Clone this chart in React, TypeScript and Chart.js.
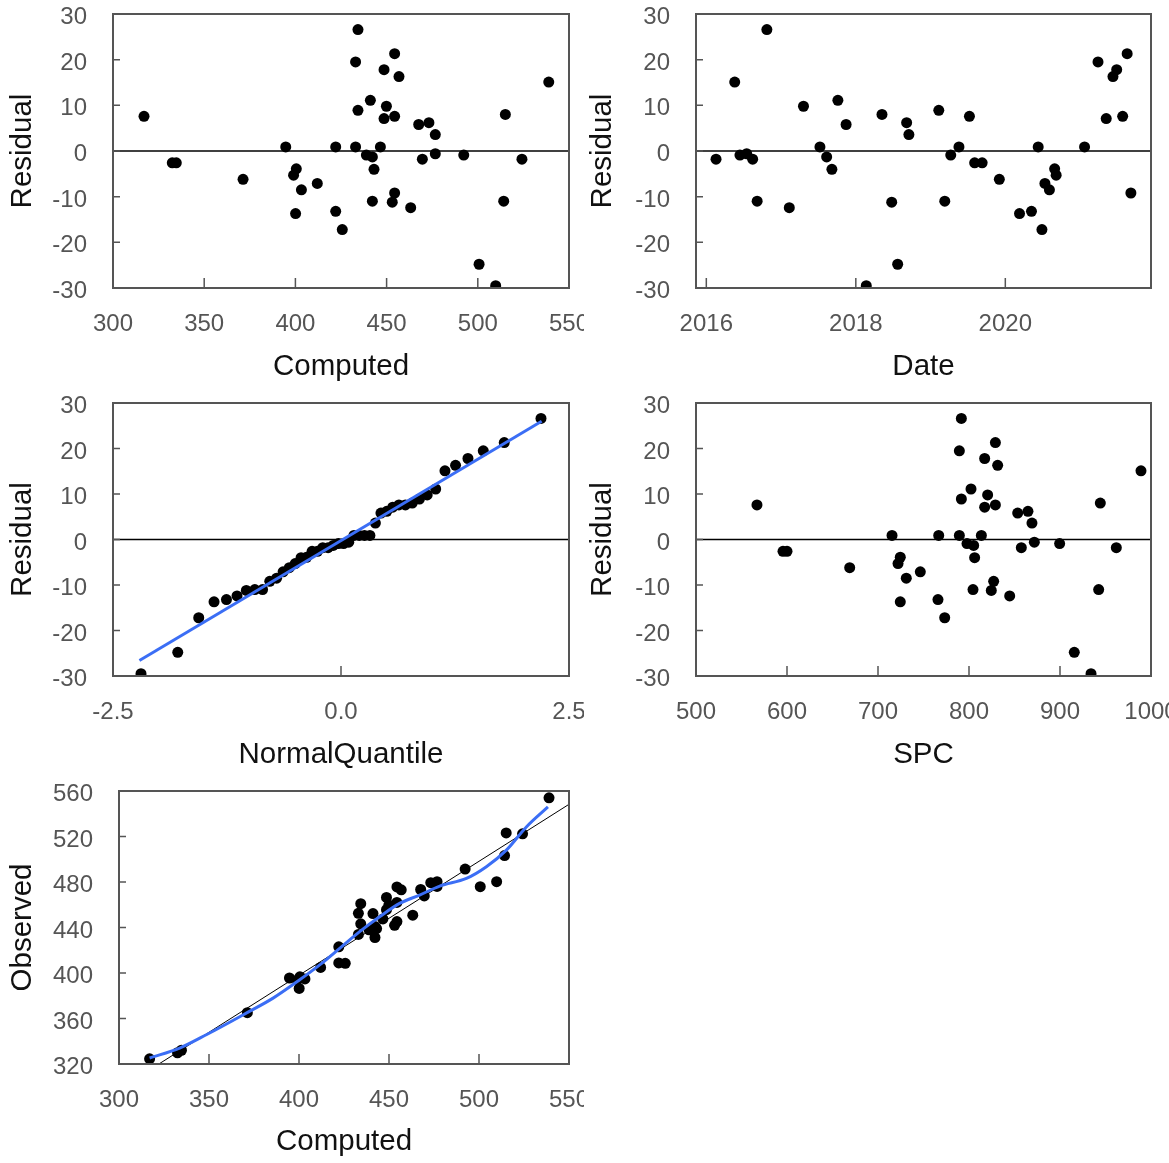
import React, { useEffect, useRef } from "react";
import { Chart, registerables } from "chart.js";
Chart.register(...registerables);

// ---- observation-level data (same order in every array) ----
const computed = [317.0, 332.5, 334.7, 371.3, 394.7, 400.5, 399.0, 403.3, 400.1, 412.0, 422.1, 422.1, 425.7, 434.3, 433.0, 434.3, 433.0, 441.1, 438.9, 442.2, 443.1, 442.2, 448.6, 449.9, 448.6, 446.6, 454.4, 456.8, 454.4, 454.4, 453.1, 463.2, 467.6, 473.2, 476.7, 476.7, 469.6, 492.3, 500.7, 509.8, 515.1, 514.2, 524.2, 538.9];
const residual = [7.6, -2.6, -2.6, -6.2, 0.9, -3.9, -5.3, -8.5, -13.7, -7.1, 0.9, -13.2, -17.2, 26.6, 19.5, 8.9, 0.9, 11.1, -0.9, -1.3, -4.0, -11.0, 17.8, 9.8, 7.1, 0.9, 21.3, 16.3, 7.6, -9.2, -11.2, -12.4, 5.8, 6.2, 3.6, -0.6, -1.8, -0.9, -24.8, -29.5, 8.0, -11.0, -1.8, 15.1];
const observed = [324.6, 329.9, 332.1, 365.1, 395.6, 396.6, 393.7, 394.8, 386.4, 404.9, 423.0, 408.9, 408.5, 460.9, 452.5, 443.2, 433.9, 452.2, 438.0, 440.9, 439.1, 431.2, 466.4, 459.7, 455.7, 447.5, 475.7, 473.1, 462.0, 445.2, 441.9, 450.8, 473.4, 479.4, 480.3, 476.1, 467.8, 491.4, 475.9, 480.3, 523.1, 503.2, 522.4, 554.0];
const dateYear = [2019.52, 2019.59, 2019.69, 2019.92, 2017.52, 2020.66, 2020.68, 2020.59, 2020.19, 2020.53, 2019.38, 2020.35, 2020.49, 2016.81, 2021.24, 2019.11, 2020.44, 2017.76, 2016.45, 2017.61, 2017.68, 2016.68, 2021.49, 2017.30, 2021.35, 2021.06, 2021.63, 2021.44, 2021.57, 2021.68, 2018.48, 2017.11, 2017.87, 2018.68, 2018.71, 2016.54, 2016.13, 2019.27, 2018.56, 2018.14, 2018.35, 2019.19, 2016.62, 2016.38];
const spc = [567.0, 595.6, 600.0, 668.9, 715.4, 724.5, 722.0, 731.1, 724.5, 746.5, 766.7, 765.9, 773.3, 791.6, 789.4, 791.6, 789.4, 802.2, 797.8, 805.1, 806.2, 804.4, 817.2, 820.5, 817.2, 813.6, 829.0, 831.5, 829.0, 827.1, 824.5, 844.7, 853.5, 864.8, 869.2, 871.8, 857.5, 899.6, 915.7, 934.1, 944.3, 942.5, 961.9, 989.0];

// ---- normal quantile plot ----
const normalQuantile = [-2.193, -1.790, -1.560, -1.392, -1.256, -1.140, -1.038, -0.945, -0.860, -0.781, -0.706, -0.635, -0.567, -0.502, -0.438, -0.377, -0.317, -0.258, -0.200, -0.142, -0.085, -0.028, 0.028, 0.085, 0.142, 0.200, 0.258, 0.317, 0.377, 0.438, 0.502, 0.567, 0.635, 0.706, 0.781, 0.860, 0.945, 1.038, 1.140, 1.256, 1.392, 1.560, 1.790, 2.193];
const sortedResidual = [-29.5, -24.8, -17.2, -13.7, -13.2, -12.4, -11.2, -11.0, -11.0, -9.2, -8.5, -7.1, -6.2, -5.3, -4.0, -3.9, -2.6, -2.6, -1.8, -1.8, -1.3, -0.9, -0.9, -0.6, 0.9, 0.9, 0.9, 0.9, 3.6, 5.8, 6.2, 7.1, 7.6, 7.6, 8.0, 8.9, 9.8, 11.1, 15.1, 16.3, 17.8, 19.5, 21.3, 26.6];
const qqLineX = [-2.21, 2.20];
const qqLineY = [-26.6, 26.0];

// ---- observed vs computed lines ----
const fitLineX = [300, 550];
const fitLineY = [297.8, 548.3];
const smoothX = [317.0, 333.7, 348.5, 370.7, 385.6, 400.4, 411.5, 422.6, 433.7, 444.8, 455.9, 467.0, 478.2, 493.0, 504.1, 515.2, 526.3, 538.3];
const smoothY = [325.3, 334.0, 345.7, 364.7, 377.9, 394.0, 407.1, 421.7, 436.4, 449.5, 461.2, 468.5, 476.4, 483.1, 493.4, 508.0, 528.4, 546.0];

// ---- axis ticks ----
const residualTicks = [-30, -20, -10, 0, 10, 20, 30];
const computedTicks = [300, 350, 400, 450, 500, 550];
const dateTicks = [2016, 2018, 2020];
const quantileTicks = [-2.5, 0, 2.5];
const spcTicks = [500, 600, 700, 800, 900, 1000];
const observedTicks = [320, 360, 400, 440, 480, 520, 560];

const FAMILY = "'Liberation Sans', Arial, sans-serif";
const BLUE = "#3b6ef5";

const framePlugin = {
  id: "frame",
  afterDatasetsDraw(chart: any) {
    const { ctx, chartArea: a, scales } = chart;
    const xs = scales.x, ys = scales.y;
    ctx.save();
    ctx.strokeStyle = "#555";
    ctx.lineWidth = 1.5;
    ctx.beginPath();
    xs.ticks.forEach((t: any) => {
      const p = xs.getPixelForValue(t.value);
      ctx.moveTo(p, a.bottom);
      ctx.lineTo(p, a.bottom - 10);
    });
    ys.ticks.forEach((t: any) => {
      const p = ys.getPixelForValue(t.value);
      ctx.moveTo(a.left, p);
      ctx.lineTo(a.left + 7, p);
    });
    ctx.stroke();
    ctx.lineWidth = 2;
    ctx.strokeRect(a.left, a.top, a.right - a.left, a.bottom - a.top);
    ctx.restore();
  },
};

type PanelProps = {
  left: number; top: number; width: number; height: number;
  areaLeft: number; areaTop: number; areaRight: number;
  yTitleOffset: number;
  xTitle: string; yTitle: string;
  xMin: number; xMax: number; xTicks: number[]; xFmt: (v: number) => string;
  yMin: number; yMax: number; yTicks: number[];
  pointsX: number[]; pointsY: number[];
  zeroLine?: boolean;
  lines?: { x: number[]; y: number[]; color: string; width: number; smooth?: boolean }[];
};

function Panel(p: PanelProps) {
  const ref = useRef<HTMLCanvasElement | null>(null);
  useEffect(() => {
    if (!ref.current) return;
    const datasets: any[] = [];
    if (p.zeroLine) {
      datasets.push({
        data: [{ x: p.xMin, y: 0 }, { x: p.xMax, y: 0 }],
        showLine: true, pointRadius: 0, borderColor: "#000", borderWidth: 1.5, order: 5,
      });
    }
    datasets.push({
      data: p.pointsX.map((x, i) => ({ x, y: p.pointsY[i] })),
      pointRadius: 5.5, pointBackgroundColor: "#000", pointBorderWidth: 0, borderWidth: 0, order: 4,
    });
    (p.lines || []).forEach((l, k) => {
      datasets.push({
        data: l.x.map((x, i) => ({ x, y: l.y[i] })),
        showLine: true, pointRadius: 0, borderColor: l.color, borderWidth: l.width,
        cubicInterpolationMode: l.smooth ? "monotone" : "default", order: 3 - k,
      });
    });
    const bottomH = p.height - 288;
    const chart = new Chart(ref.current, {
      type: "scatter",
      data: { datasets },
      plugins: [framePlugin],
      options: {
        animation: false,
        responsive: false,
        events: [],
        layout: { padding: { left: 0, top: p.areaTop, right: p.width - p.areaRight, bottom: 0 } },
        plugins: { legend: { display: false }, tooltip: { enabled: false } },
        scales: {
          x: {
            type: "linear", min: p.xMin, max: p.xMax,
            afterBuildTicks: (s: any) => { s.ticks = p.xTicks.map((v) => ({ value: v })); },
            afterFit: (s: any) => { s.height = bottomH; s.paddingLeft = 0; s.paddingRight = 0; },
            grid: { display: false, drawTicks: false }, border: { display: false },
            ticks: {
              color: "#555", font: { family: FAMILY, size: 24, lineHeight: 1 }, padding: 24,
              maxRotation: 0, minRotation: 0, autoSkip: false,
              callback: (v: any) => p.xFmt(Number(v)),
            },
            title: { display: true, text: p.xTitle, color: "#111", font: { family: FAMILY, size: 29.5, lineHeight: 1 }, padding: { top: 0, bottom: 6 } },
          },
          y: {
            type: "linear", min: p.yMin, max: p.yMax,
            afterBuildTicks: (s: any) => { s.ticks = p.yTicks.map((v) => ({ value: v })); },
            afterFit: (s: any) => { s.width = p.areaLeft; s.paddingTop = 0; s.paddingBottom = 0; },
            grid: { display: false, drawTicks: false }, border: { display: false },
            ticks: {
              color: "#555", font: { family: FAMILY, size: 24, lineHeight: 1 }, padding: 26, labelOffset: 3.5,
              autoSkip: false, callback: (v: any) => String(v),
            },
            title: { display: true, text: p.yTitle, color: "#111", font: { family: FAMILY, size: 29.5, lineHeight: 1 }, padding: { top: p.yTitleOffset, bottom: 0 } },
          },
        },
      } as any,
    });
    return () => chart.destroy();
  }, []);
  return (
    <div style={{ position: "absolute", left: p.left, top: p.top, width: p.width, height: p.height, overflow: "hidden" }}>
      <canvas ref={ref} width={p.width} height={p.height} style={{ width: p.width, height: p.height, display: "block" }} />
    </div>
  );
}

const fmtInt = (v: number) => String(v);
const fmt1 = (v: number) => v.toFixed(1);

export default function App() {
  return (
    <div style={{ position: "absolute", left: 0, top: 0, width: 1169, height: 1163, background: "#fff" }}>
      <Panel left={0} top={0} width={584} height={388} areaLeft={113} areaTop={14} areaRight={569} yTitleOffset={8}
        xTitle="Computed" yTitle="Residual" xMin={300} xMax={550} xTicks={computedTicks} xFmt={fmtInt}
        yMin={-30} yMax={30} yTicks={residualTicks} pointsX={computed} pointsY={residual} zeroLine />
      <Panel left={584} top={0} width={585} height={388} areaLeft={112} areaTop={14} areaRight={567} yTitleOffset={4}
        xTitle="Date" yTitle="Residual" xMin={2015.862} xMax={2021.949} xTicks={dateTicks} xFmt={fmtInt}
        yMin={-30} yMax={30} yTicks={residualTicks} pointsX={dateYear} pointsY={residual} zeroLine />
      <Panel left={0} top={388} width={584} height={388} areaLeft={113} areaTop={15} areaRight={569} yTitleOffset={8}
        xTitle="NormalQuantile" yTitle="Residual" xMin={-2.5} xMax={2.5} xTicks={quantileTicks} xFmt={fmt1}
        yMin={-30} yMax={30} yTicks={residualTicks} pointsX={normalQuantile} pointsY={sortedResidual} zeroLine
        lines={[{ x: qqLineX, y: qqLineY, color: BLUE, width: 3 }]} />
      <Panel left={584} top={388} width={585} height={388} areaLeft={112} areaTop={15} areaRight={567} yTitleOffset={4}
        xTitle="SPC" yTitle="Residual" xMin={500} xMax={1000} xTicks={spcTicks} xFmt={fmtInt}
        yMin={-30} yMax={30} yTicks={residualTicks} pointsX={spc} pointsY={residual} zeroLine />
      <Panel left={0} top={776} width={584} height={387} areaLeft={119} areaTop={15} areaRight={569} yTitleOffset={8}
        xTitle="Computed" yTitle="Observed" xMin={300} xMax={550} xTicks={computedTicks} xFmt={fmtInt}
        yMin={320} yMax={560} yTicks={observedTicks} pointsX={computed} pointsY={observed}
        lines={[{ x: fitLineX, y: fitLineY, color: "#000", width: 1 }, { x: smoothX, y: smoothY, color: BLUE, width: 3, smooth: true }]} />
    </div>
  );
}
